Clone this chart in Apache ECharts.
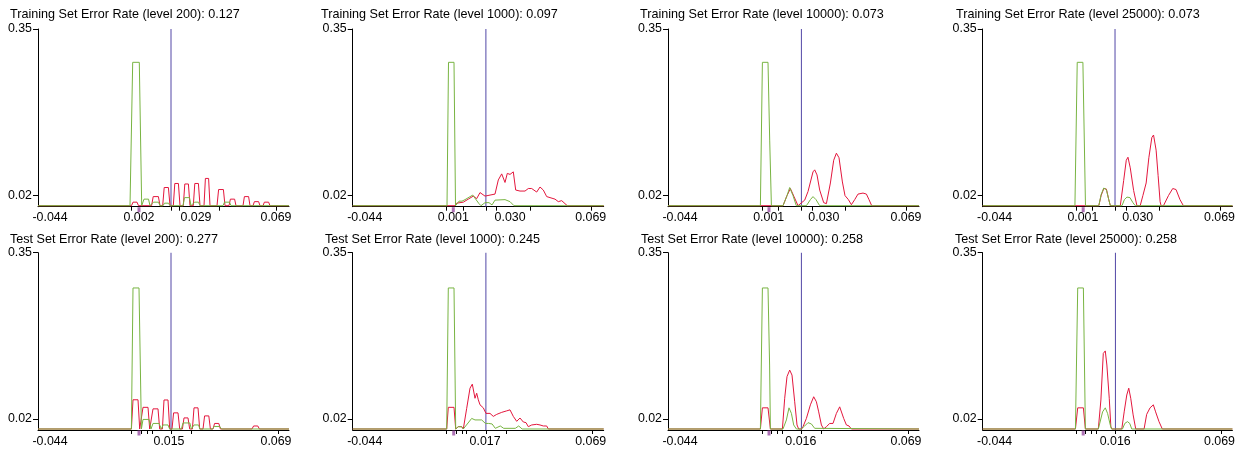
<!DOCTYPE html>
<html>
<head>
<meta charset="utf-8">
<script src="https://cdn.jsdelivr.net/npm/echarts@6/dist/echarts.min.js"></script>
<style>
html,body{margin:0;padding:0;background:#fff;}
#chart{width:1238px;height:449px;}
</style>
</head>
<body>
<div id="chart"></div>
<script>
// ---------- data ----------
const panelTitles = [
  'Training Set Error Rate (level 200): 0.127',
  'Training Set Error Rate (level 1000): 0.097',
  'Training Set Error Rate (level 10000): 0.073',
  'Training Set Error Rate (level 25000): 0.073',
  'Test Set Error Rate (level 200): 0.277',
  'Test Set Error Rate (level 1000): 0.245',
  'Test Set Error Rate (level 10000): 0.258',
  'Test Set Error Rate (level 25000): 0.258'
];
const xRange = [-0.05, 0.0755];
const yRange = [-0.002, 0.35];
const yTickValues = [0.02, 0.35];

const xLabelPos = [
  [-0.044, 0.0005, 0.029, 0.069],
  [-0.044, 0.0003, 0.0287, 0.069],
  [-0.044, 0.00035, 0.0279, 0.069],
  [-0.044, 0.00035, 0.0279, 0.069],
  [-0.044, 0.0155, 0.069],
  [-0.044, 0.0162, 0.069],
  [-0.044, 0.0164, 0.069],
  [-0.044, 0.0166, 0.069]
];
const xLabelText = [
  ['-0.044', '0.002', '0.029', '0.069'],
  ['-0.044', '0.001', '0.030', '0.069'],
  ['-0.044', '0.001', '0.030', '0.069'],
  ['-0.044', '0.001', '0.030', '0.069'],
  ['-0.044', '0.015', '0.069'],
  ['-0.044', '0.017', '0.069'],
  ['-0.044', '0.016', '0.069'],
  ['-0.044', '0.016', '0.069']
];
const xTickPos = [
  [-0.00315, 0.01685, 0.0205, 0.04065, 0.0693],
  [-0.003, 0.0053, 0.0166, 0.022, 0.0387, 0.0693],
  [-0.003, 0.0053, 0.0166, 0.022, 0.0387, 0.0693],
  [-0.003, 0.0053, 0.0166, 0.022, 0.0387, 0.0693],
  [-0.0033, 0.0017, 0.0047, 0.007, 0.0164, 0.0267, 0.07],
  [-0.003, 0.0017, 0.0047, 0.007, 0.0166, 0.0267, 0.07],
  [-0.003, 0.0017, 0.0047, 0.007, 0.0166, 0.0267, 0.07],
  [-0.003, 0.0017, 0.0047, 0.007, 0.0166, 0.0267, 0.07]
];
const thresholdX = [0.0165, 0.0166, 0.0167, 0.0165, 0.0165, 0.0166, 0.0167, 0.0167];
const markerX = [0.0005, 0.0003, 0.0005, 0.0005, 0.0005, 0.0005, 0.0005, 0.0005];

const greenP1 = [[-0.05,0],[-0.004,0],[-0.00265,0.284],[0.00065,0.284],[0.00185,0],
  [0.003,0.013],[0.00525,0.013],[0.006,0],
  [0.007,0],[0.00775,0.007],[0.01025,0.007],[0.011,0],
  [0.0125,0],[0.01325,0.005],[0.01525,0.005],[0.016,0],
  [0.0225,0],[0.02325,0.016],[0.02575,0.016],[0.0265,0],
  [0.0275,0],[0.02825,0.007],[0.03025,0.007],[0.031,0],
  [0.0425,0],[0.04325,0.007],[0.04575,0.007],[0.0465,0],[0.0755,0]];
const redP1 = [[-0.05,0],[-0.00325,0],[-0.0025,0.007],[-0.0005,0.007],[0.00025,0],
  [0.0068,0],[0.0076,0.018],[0.0102,0.018],[0.011,0],
  [0.01235,0],[0.0131,0.036],[0.0152,0.036],[0.016,0],
  [0.01765,0],[0.0184,0.044],[0.0202,0.044],[0.021,0],
  [0.02265,0],[0.0234,0.043],[0.0252,0.043],[0.026,0],
  [0.02765,0],[0.0284,0.044],[0.0302,0.044],[0.031,0],
  [0.033,0],[0.0337,0.054],[0.0353,0.054],[0.036,0],
  [0.0395,0],[0.0403,0.032],[0.0427,0.032],[0.0435,0],
  [0.0455,0],[0.0462,0.013],[0.0483,0.013],[0.049,0],
  [0.0525,0],[0.0532,0.018],[0.0553,0.018],[0.056,0],
  [0.0575,0],[0.0582,0.008],[0.0603,0.008],[0.061,0],
  [0.0625,0],[0.0632,0.007],[0.0653,0.007],[0.066,0],[0.0755,0]];

const greenP2 = [[-0.05,0],[-0.00285,0],[-0.0021,0.284],[0.00065,0.284],[0.0014,0],
  [0.00215,0],[0.00315,0.009],[0.00465,0.009],[0.00615,0.012],[0.01,0.021],[0.01315,0.004],
  [0.01415,0],[0.01615,0.006],[0.01815,0.006],[0.01965,0.0015],[0.02115,0.011],
  [0.02615,0.012],[0.02865,0.008],[0.03065,0],[0.0755,0]];
const redP2 = [[-0.05,0],[0.00115,0],[0.002,0.005],[0.0053,0.007],[0.0078,0.013],[0.0103,0.019],
  [0.012,0.014],[0.01365,0.026],[0.01615,0.019],[0.01865,0.021],[0.02115,0.023],[0.0228,0.051],
  [0.0245,0.063],[0.02615,0.046],[0.0273,0.064],[0.02865,0.062],[0.0303,0.067],[0.0315,0.031],
  [0.03365,0.029],[0.03615,0.029],[0.0378,0.034],[0.0395,0.034],[0.042,0.027],[0.04365,0.037],
  [0.0453,0.031],[0.047,0.018],[0.05115,0.013],[0.0528,0.008],[0.0545,0.010],[0.05615,0.004],
  [0.0573,0],[0.0755,0]];

const greenP3 = [[-0.05,0],[-0.0038,0],[-0.0028,0.284],[0.0,0.284],[0.00085,0.13],[0.0017,0],
  [0.0075,0],[0.0095,0.02],[0.01085,0.036],[0.0125,0.02],[0.01415,0],
  [0.0192,0],[0.0212,0.012],[0.0225,0.018],[0.024,0.012],[0.02585,0],[0.0755,0]];
const redP3 = [[-0.05,0],[0.0075,0],[0.0095,0.02],[0.0112,0.034],[0.013,0.018],[0.015,0],
  [0.01585,0],[0.01835,0.011],[0.02,0.028],[0.0225,0.067],[0.02335,0.071],[0.0245,0.061],
  [0.02585,0.031],[0.02785,0.006],[0.0292,0.004],[0.0312,0.045],[0.03285,0.09],[0.0342,0.104],
  [0.0355,0.095],[0.0372,0.047],[0.0385,0.02],[0.0402,0.012],[0.0417,0.002],[0.04335,0.012],
  [0.045,0.023],[0.0475,0.025],[0.0492,0.023],[0.0505,0.012],[0.05185,0],[0.0755,0]];

const greenP4 = [[-0.05,0],[-0.00365,0],[-0.0025,0.284],[0.00035,0.284],[0.00165,0],
  [0.00835,0],[0.0095,0.022],[0.01085,0.035],[0.01215,0.032],[0.01335,0.012],[0.01415,0],
  [0.02,0],[0.0212,0.012],[0.0225,0.017],[0.024,0.016],[0.0255,0.006],[0.02665,0],[0.0755,0]];
const redP4 = [[-0.05,0],[0.00835,0],[0.0095,0.02],[0.01085,0.034],[0.01215,0.033],[0.01335,0.012],[0.01415,0],
  [0.01915,0],[0.02085,0.05],[0.02215,0.09],[0.023,0.096],[0.02415,0.075],[0.02585,0.03],[0.0275,0],
  [0.02915,0],[0.0305,0.02],[0.03215,0.045],[0.0335,0.095],[0.035,0.135],[0.03585,0.14],
  [0.03715,0.11],[0.03815,0.06],[0.03915,0.008],[0.03965,0],
  [0.04085,0],[0.04335,0.02],[0.0455,0.034],[0.04715,0.032],[0.04915,0.012],[0.05085,0],[0.0755,0]];

const greenP5 = [[-0.05,0],[-0.0033,0],[-0.0025,0.28],[0.0005,0.28],[0.0017,0],
  [0.0025,0.019],[0.0055,0.019],[0.0065,0],
  [0.0067,0],[0.0075,0.011],[0.0105,0.011],[0.0117,0],
  [0.0125,0.008],[0.015,0.008],[0.0158,0],
  [0.0217,0],[0.0225,0.012],[0.0259,0.012],[0.0267,0],
  [0.0273,0],[0.028,0.008],[0.0303,0.008],[0.0309,0],
  [0.0373,0],[0.0381,0.005],[0.0409,0.005],[0.0417,0],[0.0755,0]];
const redP5 = [[-0.05,0],[-0.0033,0],[-0.0025,0.058],[0.0,0.058],[0.00085,0],
  [0.0017,0],[0.0025,0.043],[0.005,0.043],[0.00585,0],
  [0.0067,0],[0.0075,0.04],[0.01,0.04],[0.01085,0],
  [0.0122,0],[0.013,0.0576],[0.015,0.0576],[0.01585,0],
  [0.017,0],[0.0178,0.032],[0.02,0.032],[0.02085,0],
  [0.0222,0],[0.023,0.022],[0.025,0.022],[0.02585,0],
  [0.0272,0],[0.028,0.042],[0.03,0.042],[0.03085,0],
  [0.0325,0],[0.0333,0.026],[0.0354,0.026],[0.0362,0],
  [0.0375,0],[0.0383,0.011],[0.0404,0.011],[0.0412,0],
  [0.057,0],[0.0578,0.006],[0.0599,0.006],[0.0607,0],[0.0755,0]];

const greenP6 = [[-0.05,0],[-0.003,0],[-0.0022,0.28],[0.00065,0.28],[0.0015,0],[0.002,0],
  [0.0028,0.0046],[0.0045,0.0046],[0.0053,0],[0.00615,0],[0.0095,0.021],[0.01115,0.018],
  [0.012,0.0146],[0.0145,0.018],[0.01635,0.011],[0.018,0.011],[0.0197,0.01],[0.0213,0.0013],
  [0.0238,0.006],[0.0255,0.0013],[0.0313,0.0013],[0.033,0.006],[0.0347,0],[0.0755,0]];
const redP6 = [[-0.05,0],[-0.003,0],[-0.0022,0.043],[0.00065,0.043],[0.0015,0],[0.002,0],
  [0.0028,0.0046],[0.0045,0.0046],[0.0053,0],[0.00615,0],[0.007,0.041],[0.00865,0.081],
  [0.0098,0.089],[0.01115,0.061],[0.012,0.071],[0.0128,0.058],[0.01365,0.048],[0.0153,0.042],
  [0.01665,0.031],[0.01865,0.031],[0.0203,0.025],[0.022,0.029],[0.0245,0.033],[0.027,0.036],
  [0.02865,0.038],[0.0303,0.025],[0.032,0.0152],[0.03365,0.0218],[0.0353,0.0139],[0.03665,0.0126],
  [0.0378,0.0046],[0.0395,0.008],[0.042,0.0093],[0.04365,0.008],[0.0453,0.006],[0.047,0.006],
  [0.0478,0],[0.0755,0]];

const greenP7 = [[-0.05,0],[-0.0038,0],[-0.0028,0.28],[0.0,0.28],[0.0008,0.127],[0.0012,0],
  [0.0075,0],[0.0092,0.018],[0.0105,0.042],[0.0117,0.031],[0.01285,0.008],[0.0142,0],
  [0.0167,0],[0.01835,0.006],[0.02,0.0126],[0.0217,0.01],[0.02335,0.0013],[0.0242,0],[0.0755,0]];
const redP7 = [[-0.05,0],[-0.0038,0],[-0.0028,0.042],[0.0,0.042],[0.0012,0],
  [0.0072,0],[0.00835,0.061],[0.0095,0.104],[0.01085,0.117],[0.012,0.107],[0.01335,0.054],
  [0.0145,0.008],[0.01535,0],
  [0.0167,0],[0.0175,0.0046],[0.0192,0.021],[0.0212,0.048],[0.02285,0.064],[0.0242,0.054],
  [0.02535,0.034],[0.0267,0.008],[0.02785,0],
  [0.0292,0.0046],[0.03085,0.011],[0.0325,0.011],[0.0342,0.031],[0.03585,0.044],[0.0367,0.041],
  [0.03785,0.021],[0.0392,0.008],[0.0405,0.006],[0.0417,0],[0.0755,0]];

const greenP8 = [[-0.05,0],[-0.0034,0],[-0.00225,0.28],[0.0006,0.28],[0.0016,0],
  [0.0081,0],[0.01025,0.034],[0.0116,0.042],[0.01275,0.031],[0.0141,0.008],[0.01475,0],
  [0.02025,0],[0.0214,0.011],[0.02275,0.0146],[0.0239,0.011],[0.0249,0],[0.0755,0]];
const redP8 = [[-0.05,0],[-0.0034,0],[-0.00225,0.042],[0.0006,0.042],[0.0016,0],
  [0.0081,0],[0.0094,0.0576],[0.0106,0.15],[0.0116,0.155],[0.0124,0.127],[0.0136,0.061],
  [0.0144,0.0046],[0.0149,0],
  [0.0199,0],[0.0211,0.034],[0.0224,0.0675],[0.0234,0.081],[0.0244,0.061],[0.0256,0.028],[0.0269,0],
  [0.0311,0],[0.0324,0.029],[0.0341,0.042],[0.03575,0.048],[0.0369,0.034],[0.0386,0.0146],
  [0.04025,0],[0.0755,0]];

const greenSeries = [greenP1, greenP2, greenP3, greenP4, greenP5, greenP6, greenP7, greenP8];
const redSeries = [redP1, redP2, redP3, redP4, redP5, redP6, redP7, redP8];

// ---------- layout / style ----------
const FONT = '"Liberation Sans", Arial, sans-serif';
const colLeft = [38, 352.7, 668, 982.7];
const plotWidth = 251;
const rowTop = [29, 252.7];
const rowHeight = [177.7, 177.3];
const titleLeft = [10, 321, 640, 956, 10, 325, 641, 955];
const titleTop = [8, 233];
const GREEN = '#78b442';
const RED = '#e3173d';
const VLINE = '#5247a6';
const MARK = '#9a4fa3';

const grids = [], xAxes = [], yAxes = [], series = [], titles = [];
for (let i = 0; i < 8; i++) {
  const row = Math.floor(i / 4), col = i % 4;
  grids.push({left: colLeft[col], top: rowTop[row], width: plotWidth, height: rowHeight[row], containLabel: false});
  titles.push({text: panelTitles[i], left: titleLeft[i], top: titleTop[row], padding: 0,
    textStyle: {fontFamily: FONT, fontSize: 12.6, fontWeight: 'normal', color: '#000'}});
  const lp = xLabelPos[i], lt = xLabelText[i];
  xAxes.push({
    gridIndex: i, type: 'value', min: xRange[0], max: xRange[1],
    axisLine: {show: true, onZero: false, lineStyle: {color: '#000', width: 1}},
    axisTick: {show: true, customValues: xTickPos[i], length: 4, lineStyle: {color: '#000', width: 1}},
    axisLabel: {show: true, customValues: lp, margin: row === 0 ? 5 : 6, fontFamily: FONT, fontSize: 12.4, color: '#000',
      formatter: function (v) {
        let best = 0, d = Infinity;
        lp.forEach((p, k) => { const dd = Math.abs(p - v); if (dd < d) { d = dd; best = k; } });
        return lt[best];
      }},
    splitLine: {show: false}
  });
  yAxes.push({
    gridIndex: i, type: 'value', min: yRange[0], max: yRange[1],
    axisLine: {show: true, onZero: false, lineStyle: {color: '#000', width: 1}},
    axisTick: {show: true, customValues: yTickValues, length: 5, lineStyle: {color: '#000'}},
    axisLabel: {show: true, customValues: yTickValues, margin: 6, fontFamily: FONT, fontSize: 12.4, color: '#000',
      formatter: v => v.toFixed(2)},
    splitLine: {show: false}
  });
  // threshold vertical line
  series.push({
    type: 'line', xAxisIndex: i, yAxisIndex: i,
    data: [[thresholdX[i], yRange[0]], [thresholdX[i], yRange[1]]],
    showSymbol: false, lineStyle: {color: VLINE, width: 1}, z: 1, silent: true
  });
  series.push({
    type: 'line', xAxisIndex: i, yAxisIndex: i, data: redSeries[i], showSymbol: false,
    lineStyle: {color: RED, width: 1}, itemStyle: {color: RED}, z: 2, silent: true
  });
  series.push({
    type: 'line', xAxisIndex: i, yAxisIndex: i, data: greenSeries[i], showSymbol: false,
    lineStyle: {color: GREEN, width: 1}, itemStyle: {color: GREEN}, z: 3, silent: true
  });
  series.push({
    type: 'scatter', xAxisIndex: i, yAxisIndex: i, data: [[markerX[i], yRange[0]]],
    symbol: 'rect', symbolSize: [3, 5], symbolOffset: [0, 3], clip: false,
    itemStyle: {color: MARK}, z: 5, silent: true
  });
}

const chart = echarts.init(document.getElementById('chart'), null, {renderer: 'canvas'});
chart.setOption({
  animation: false,
  backgroundColor: '#fff',
  title: titles,
  grid: grids,
  xAxis: xAxes,
  yAxis: yAxes,
  series: series
});
</script>
</body>
</html>
